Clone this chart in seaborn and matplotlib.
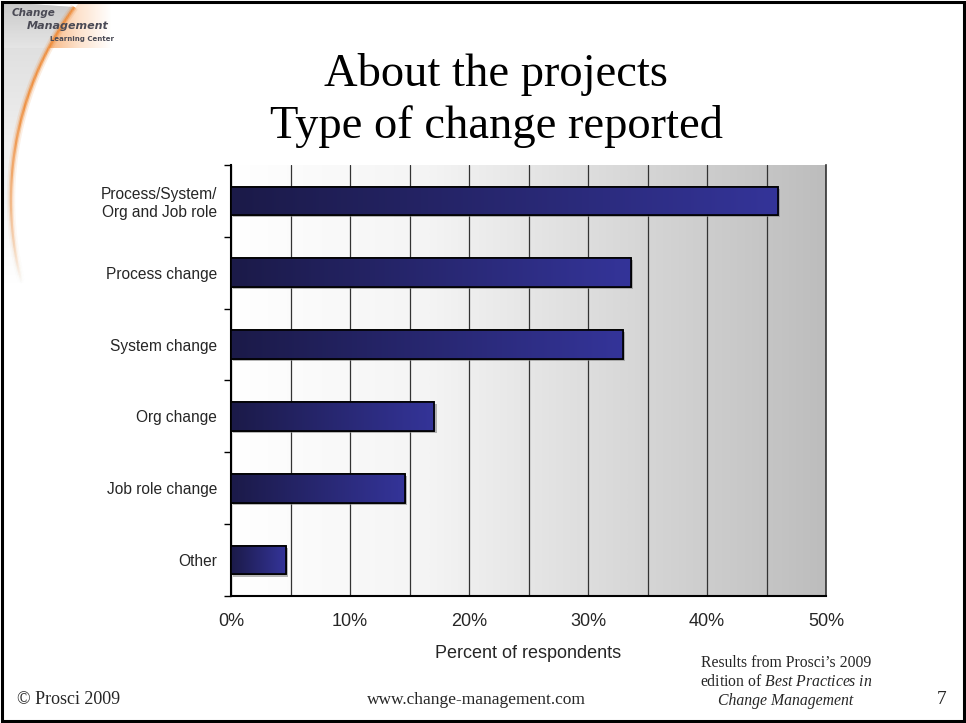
import numpy as np
import matplotlib
matplotlib.use("Agg")
import matplotlib.pyplot as plt
import matplotlib.patheffects as pe
from matplotlib.patches import Rectangle, Polygon
from matplotlib.collections import LineCollection
from matplotlib.ticker import MultipleLocator, FixedLocator, FuncFormatter
from matplotlib.colors import LinearSegmentedColormap, to_rgba
import seaborn as sns
import pandas as pd

# Survey data
categories = ["Process/System/\nOrg and Job role", "Process change", "System change",
              "Org change", "Job role change", "Other"]
percents = [46.0, 33.6, 32.9, 17.1, 14.6, 4.6]
x_ticks = [0, 10, 20, 30, 40, 50]

sns.set_theme(style="white")
plt.rcParams["font.family"] = ["Liberation Sans", "DejaVu Sans"]
plt.rcParams["mathtext.fontset"] = "custom"
plt.rcParams["mathtext.it"] = "Liberation Serif:italic"
plt.rcParams["mathtext.rm"] = "Liberation Serif"

fig = plt.figure(figsize=(9.66, 7.23), dpi=100)
fig.patch.set_facecolor("white")

# Slide decoration layer (pixel coordinates)
deco = fig.add_axes([0, 0, 1, 1], zorder=0)
deco.set_xlim(0, 966)
deco.set_ylim(723, 0)
deco.axis("off")

# Swoosh geometry: circular arc down the left edge
cx, cy, R = 336, 200, 325
t = np.radians(np.linspace(216.4, 165, 300))
arc_x = cx + R * np.cos(t)
arc_y = cy + R * np.sin(t)

# Light gray wash left of the swoosh, fading downwards
wash = Polygon(np.column_stack([np.r_[2, arc_x, 2], np.r_[2, arc_y, arc_y[-1]]]),
               closed=True, fc="none", ec="none")
deco.add_patch(wash)
wash_cmap = LinearSegmentedColormap.from_list("w", ["#d8d8d8", "#efefef", "#ffffff"])
im = deco.imshow(np.linspace(0, 1, 256)[:, None], cmap=wash_cmap, aspect="auto",
                 extent=[0, 100, arc_y[-1], 0], zorder=1)
im.set_clip_path(wash)
# Gray band behind the logo text
band_cmap = LinearSegmentedColormap.from_list("b", ["#c8c8c8", "#e6e6e6"])
band = deco.imshow(np.linspace(0, 1, 64)[:, None], cmap=band_cmap, aspect="auto",
                   extent=[2, 105, 48, 2], zorder=1.2, alpha=0.9)
band.set_clip_path(wash)
# Orange glow on the logo side of the swoosh top
glow = Polygon([[78, 4], [112, 4], [112, 48], [45, 48]], closed=True,
               fc="none", ec="none")
deco.add_patch(glow)
glow_cmap = LinearSegmentedColormap.from_list("o", ["#f7b27a", "#fde2cc", "#ffffff"])
gim = deco.imshow(np.linspace(0, 1, 64)[None, :], cmap=glow_cmap, aspect="auto",
                  extent=[45, 112, 48, 4], zorder=1.1)
gim.set_clip_path(glow)

# The orange line itself, fading out towards the bottom
pts = np.column_stack([arc_x, arc_y]).reshape(-1, 1, 2)
segs = np.concatenate([pts[:-1], pts[1:]], axis=1)
fade = np.clip(1.3 - np.linspace(0, 1, len(segs)) ** 1.5 * 1.3, 0, 1)
for lw, a in [(6, 0.15), (3.5, 0.35), (1.6, 0.9)]:
    cols = [to_rgba("#ef8a35", a * f) for f in fade]
    deco.add_collection(LineCollection(segs, colors=cols, linewidths=lw, zorder=2))

deco.text(12, 13, "Change", fontsize=7.5, fontweight="bold", style="italic",
          color="#4a4a55", va="center", family=["DejaVu Sans"], zorder=3)
deco.text(27, 26, "Management", fontsize=8, fontweight="bold", style="italic",
          color="#4a4a55", va="center", family=["DejaVu Sans"], zorder=3)
deco.text(50, 39, "Learning Center", fontsize=5, fontweight="bold",
          color="#4a4a55", va="center", family=["DejaVu Sans"], zorder=3)

# Slide frame
deco.add_patch(Rectangle((1.5, 1.5), 962.5, 719.5, fill=False, ec="black", lw=2.2,
                         zorder=5))

# Title
deco.text(496, 75, "About the projects", ha="center", va="center", fontsize=33.5,
          family=["Liberation Serif"], color="black")
deco.text(496, 126, "Type of change reported", ha="center", va="center",
          fontsize=33.5, family=["Liberation Serif"], color="black")

# Footer
deco.text(17, 700, "\u00a9 Prosci 2009", ha="left", va="center", fontsize=13,
          family=["Liberation Serif"])
deco.text(476, 700, "www.change-management.com", ha="center", va="center",
          fontsize=12.5, family=["Liberation Serif"])
deco.text(942, 700, "7", ha="center", va="center", fontsize=14,
          family=["Liberation Serif"])
deco.text(786, 663, "Results from Prosci\u2019s 2009", ha="center", va="center",
          fontsize=11.3, family=["Liberation Serif"])
deco.text(786, 682, "edition of $\\it{Best\\ Practices\\ in}$", ha="center",
          va="center", fontsize=11.3, family=["Liberation Serif"])
deco.text(786, 701, "Change Management", ha="center", va="center", fontsize=11.3,
          style="italic", family=["Liberation Serif"])

# Chart
ax = fig.add_axes([231 / 966, 1 - 596 / 723, 595 / 966, 431 / 723], zorder=2)
ax.set_facecolor("none")

df = pd.DataFrame({"category": categories, "percent": percents})
sns.barplot(data=df, x="percent", y="category", orient="h", ax=ax,
            color="#333399", width=0.4, edgecolor="black", linewidth=1.2,
            zorder=3)

n = len(categories)
ax.set_xlim(0, 50)
ax.set_ylim(n - 0.5, -0.5)

# Plot area background: white to gray, left to right
bg_cmap = LinearSegmentedColormap.from_list("bg", ["#ffffff", "#f4f4f4", "#d8d8d8", "#bdbdbd"])
ax.imshow(np.linspace(0, 1, 512)[None, :], cmap=bg_cmap, aspect="auto",
          extent=[0, 50, n - 0.5, -0.5], zorder=0)

# Each bar gets its own dark-to-bright horizontal gradient
bar_cmap = LinearSegmentedColormap.from_list("bar", ["#1b1a48", "#343499"])
for patch in list(ax.patches):
    x0, y0 = patch.get_x(), patch.get_y()
    w, h = patch.get_width(), patch.get_height()
    patch.set_path_effects([pe.SimplePatchShadow(offset=(1.5, -1.5),
                                                 shadow_rgbFace="#888888",
                                                 alpha=0.6), pe.Normal()])
    bim = ax.imshow(np.linspace(0, 1, 256)[None, :], cmap=bar_cmap, aspect="auto",
                    extent=[x0, x0 + w, y0 + h, y0], zorder=3.5)
    bim.set_clip_path(patch)
    ax.add_patch(Rectangle((x0, y0), w, h, fill=False, ec="black", lw=1.2,
                           zorder=4))

ax.set_xlim(0, 50)
ax.set_ylim(n - 0.5, -0.5)

# Vertical gridlines every 5 %
ax.xaxis.set_major_locator(FixedLocator(x_ticks))
ax.xaxis.set_minor_locator(MultipleLocator(5))
ax.xaxis.set_major_formatter(FuncFormatter(lambda v, p: f"{v:.0f}%"))
ax.grid(True, axis="x", which="both", color="#333333", lw=0.9, zorder=1)
ax.set_axisbelow(True)
ax.tick_params(axis="x", which="major", direction="out", length=5, width=1,
               color="black", pad=7, labelsize=13)
ax.tick_params(axis="x", which="minor", length=0)

# Category ticks on boundaries, labels at bar centres
ax.yaxis.set_minor_locator(FixedLocator(np.arange(-0.5, n, 1.0)))
ax.tick_params(axis="y", which="minor", direction="out", length=5, width=1,
               color="black", left=True)
ax.tick_params(axis="y", which="major", length=0, pad=10, labelsize=11.2)
ax.set_ylabel("")
ax.set_xlabel("Percent of respondents", fontsize=13, labelpad=11)

for s in ["left", "bottom"]:
    ax.spines[s].set_color("black")
    ax.spines[s].set_linewidth(1.5)
ax.spines["right"].set_color("#333333")
ax.spines["right"].set_linewidth(1.2)
ax.spines["top"].set_visible(False)

fig.savefig("out.png", dpi=100, facecolor="white")
